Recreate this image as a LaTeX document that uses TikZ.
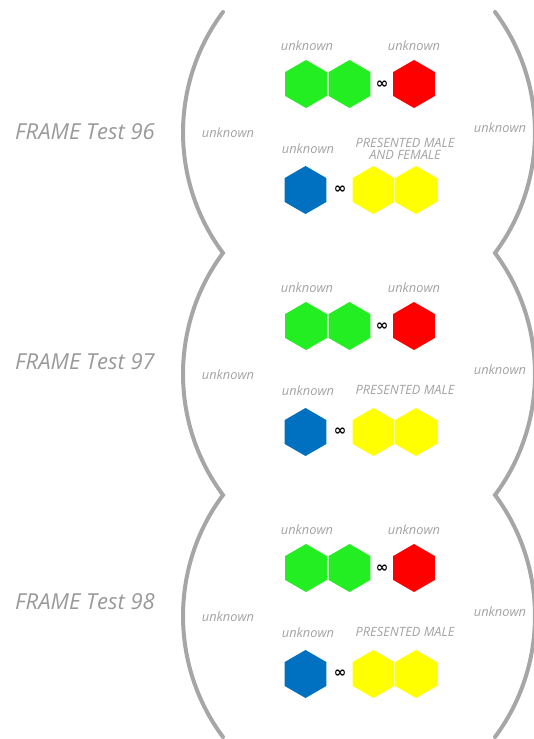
\documentclass[tikz,border=0pt]{standalone}
\usepackage{fontspec}
\setmainfont{Open Sans}
\newfontfamily\symf{DejaVu Sans}
\usetikzlibrary{shapes.geometric}
\definecolor{brk}{HTML}{A6A6A6}
\definecolor{txtA}{HTML}{999999}
\definecolor{txtB}{HTML}{A3A3A3}
\definecolor{hgreen}{HTML}{22EE22}
\definecolor{hred}{HTML}{FF0000}
\definecolor{hblue}{HTML}{0070C0}
\definecolor{hyellow}{HTML}{FFFF00}
\begin{document}
\begin{tikzpicture}[x=1pt,y=-1pt,
  hexa/.style={regular polygon, regular polygon sides=6, shape border rotate=30,
    minimum size=48pt, inner sep=0pt, outer sep=0pt, draw=none},
  lbl/.style={font=\itshape\fontsize{12.8}{12.5}\selectfont, text=txtB, inner sep=0pt, align=center},
  framelbl/.style={font=\itshape\fontsize{22}{24}\selectfont, text=txtA, inner sep=0pt},
  inf/.style={font=\symf\bfseries\fontsize{15}{15}\selectfont, inner sep=0pt},
  brack/.style={draw=brk, line width=4pt, line cap=round, line join=miter}]
\useasboundingbox (0,0) rectangle (533,739);

% brackets
\coordinate (L0) at (223,12);
\coordinate (L1) at (223,253);
\coordinate (L2) at (223,495);
\coordinate (L3) at (223,737);
\coordinate (R0) at (495,12);
\coordinate (R1) at (495,253);
\coordinate (R2) at (495,495);
\coordinate (R3) at (495,737);
\path[brack] (L0) .. controls (169.7,83.4) and (169.7,181.6) .. (L1)
  .. controls (169.7,324.4) and (169.7,423.6) .. (L2)
  .. controls (169.7,566.4) and (169.7,665.6) .. (L3);
\path[brack] (R0) .. controls (548.3,83.4) and (548.3,181.6) .. (R1)
  .. controls (548.3,324.4) and (548.3,423.6) .. (R2)
  .. controls (548.3,566.4) and (548.3,665.6) .. (R3);

% frame labels
\node[framelbl] (f96) at (85,132) {FRAME Test 96};
\node[framelbl] (f97) at (85,362) {FRAME Test 97};
\node[framelbl] (f98) at (85,602) {FRAME Test 98};

\foreach \i/\dy in {1/0,2/242,3/484} {
  \begin{scope}[shift={(0,\dy)}]
    \node[lbl] (lu\i) at (228,133) {unknown};
    \node[lbl] (ru\i) at (500,128) {unknown};
    \node[lbl] (t1\i) at (307,46) {unknown};
    \node[lbl] (t2\i) at (414,46) {unknown};
    \node[hexa, fill=hgreen] (ga\i) at (306,84) {};
    \node[hexa, fill=hgreen] (gb\i) at (349.5,84) {};
    \node[inf] (ia\i) at (382,85) {∞};
    \node[hexa, fill=hred] (r\i) at (414,84) {};
    \node[lbl] (b1\i) at (308,149) {unknown};
    \node[hexa, fill=hblue] (b\i) at (305.5,190) {};
    \node[inf] (ib\i) at (340,190) {∞};
    \node[hexa, fill=hyellow] (ya\i) at (373.5,190) {};
    \node[hexa, fill=hyellow] (yb\i) at (416,190) {};
  \end{scope}
}
\node[lbl] (p1) at (405,149) {PRESENTED MALE\\AND FEMALE};
\node[lbl] (p2) at (405,390) {PRESENTED MALE};
\node[lbl] (p3) at (405,632) {PRESENTED MALE};
\end{tikzpicture}
\end{document}
